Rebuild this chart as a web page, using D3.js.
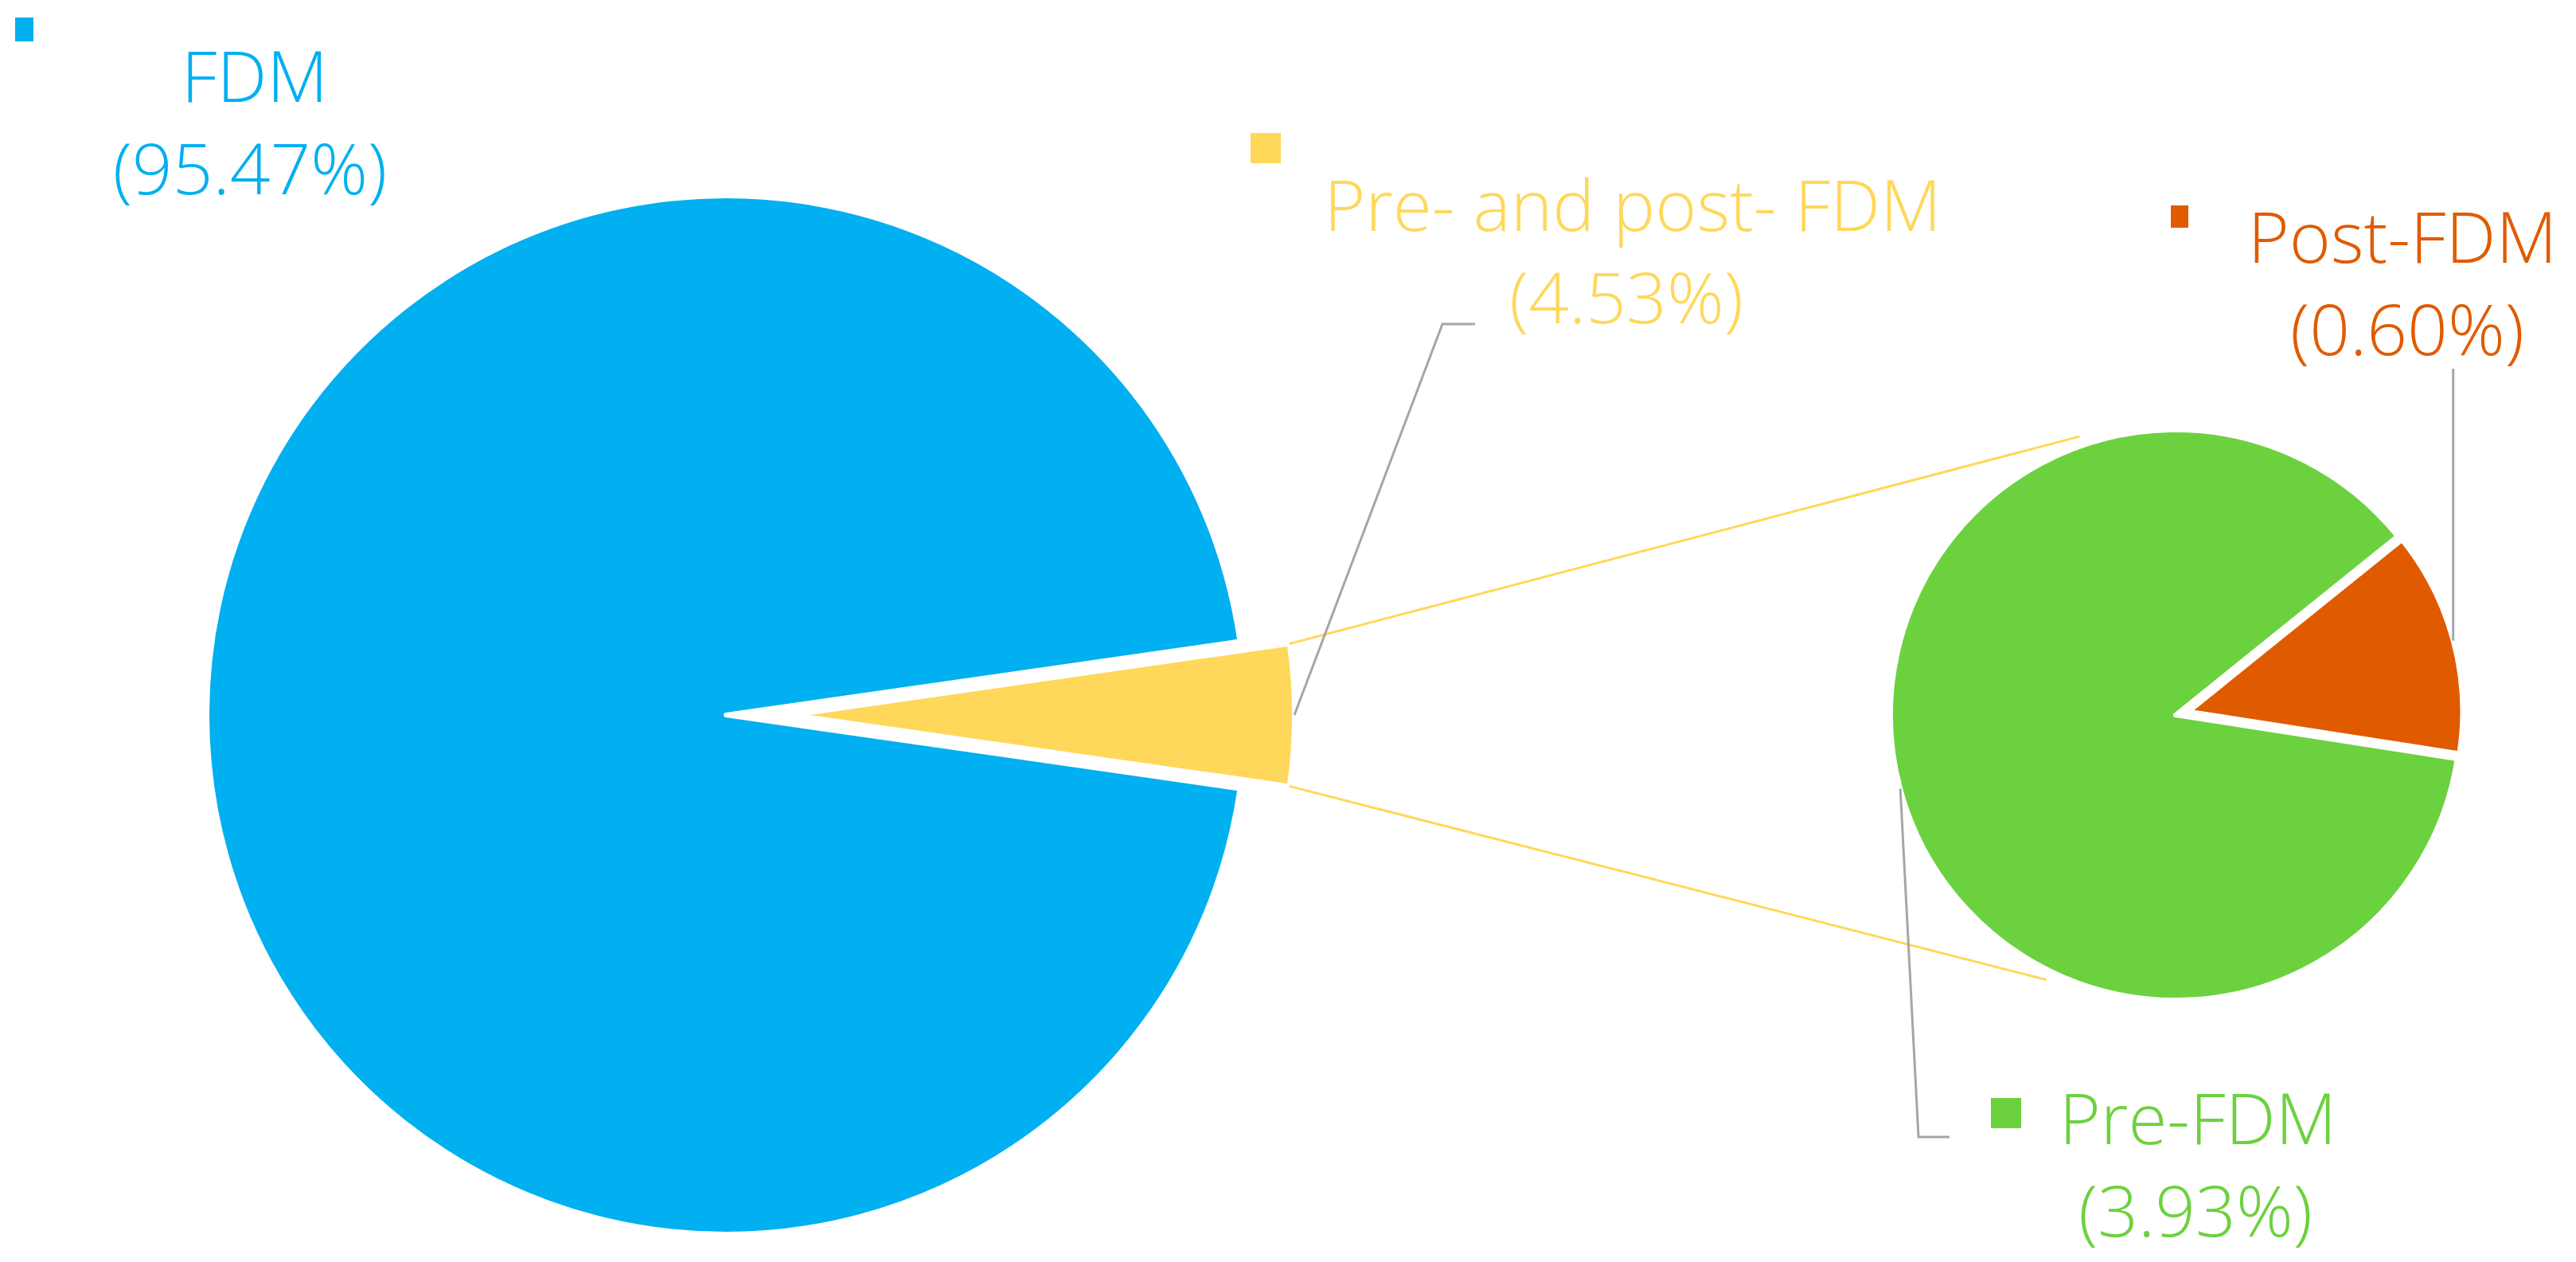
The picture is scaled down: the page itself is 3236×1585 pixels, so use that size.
<!DOCTYPE html>
<html>
<head>
<meta charset="utf-8">
<script src="https://cdnjs.cloudflare.com/ajax/libs/d3/7.8.5/d3.min.js"></script>
<style>
  html, body { margin: 0; padding: 0; background: #fff; }
  text { font-family: "Open Sans", "Noto Sans", sans-serif; font-weight: 300; }
</style>
</head>
<body>
<div id="container"></div>
<script>
// main pie: FDM vs the combined pre/post slice
var mainLabels = ['FDM', 'Pre- and post- FDM'];
var mainValues = [95.47, 4.53];
var mainColors = ['#00B0F0', '#FFD75A'];

// secondary pie: split of the combined slice
var subLabels = ['Pre-FDM', 'Post-FDM'];
var subValues = [3.93, 0.60];
var subColors = ['#6CD13F', '#E05B00'];

var width = 3236,
    height = 1585;

var rad = Math.PI / 180;

var svg = d3.select('div#container')
    .append('svg')
    .attr('width', width)
    .attr('height', height);

// ---- main pie ----
var mc = [912, 898], mr = 652;
var yellowShare = mainValues[1] / d3.sum(mainValues);
var half = Math.PI * yellowShare;   // half angle of the yellow slice
var mainPie = d3.pie().sort(null)
    .startAngle(Math.PI / 2 + half)
    .endAngle(Math.PI / 2 + half + 2 * Math.PI);
var mainArcs = mainPie(mainValues);

// exploded slice is pushed right and drawn a little smaller
var explode = [0, 84], radii = [mr, 630];

var gMain = svg.append('g').attr('transform', 'translate(' + mc + ')');
gMain.selectAll('path')
    .data(mainArcs)
    .enter().append('path')
    .attr('d', function(d, i) {
        return d3.arc().innerRadius(0).outerRadius(radii[i])(d);
    })
    .attr('transform', function(d, i) {
        var a = (d.startAngle + d.endAngle) / 2;
        return 'translate(' + [explode[i] * Math.sin(a), -explode[i] * Math.cos(a)] + ')';
    })
    .attr('fill', function(d, i) { return mainColors[i]; })
    .attr('stroke', '#fff')
    .attr('stroke-width', 6)
    .attr('stroke-linejoin', 'round');

// ---- secondary pie ----
var sc = [2733, 898], sr = 358;
var orangeShare = subValues[1] / d3.sum(subValues);
var orangeMid = 75 * rad;
var orangeEnd = orangeMid + Math.PI * orangeShare;
var subPie = d3.pie().sort(null)
    .startAngle(orangeEnd)
    .endAngle(orangeEnd + 2 * Math.PI);
var subArcs = subPie(subValues);
var subExplode = [0, 17], subRadii = [sr, 344];

var gSub = svg.append('g').attr('transform', 'translate(' + sc + ')');
gSub.selectAll('path')
    .data(subArcs)
    .enter().append('path')
    .attr('d', function(d, i) {
        return d3.arc().innerRadius(0).outerRadius(subRadii[i])(d);
    })
    .attr('transform', function(d, i) {
        var a = (d.startAngle + d.endAngle) / 2;
        return 'translate(' + [subExplode[i] * Math.sin(a), -subExplode[i] * Math.cos(a)] + ')';
    })
    .attr('fill', function(d, i) { return subColors[i]; })
    .attr('stroke', '#fff')
    .attr('stroke-width', 6)
    .attr('stroke-linejoin', 'round');

// helper: point on the rim of an (exploded) slice at angle a
function rim(center, arc, off, r, a) {
    var m = (arc.startAngle + arc.endAngle) / 2;
    return [center[0] + off * Math.sin(m) + r * Math.sin(a),
            center[1] - off * Math.cos(m) - r * Math.cos(a)];
}

// ---- connector lines between the two pies ----
var ya = mainArcs[1];
var still = {startAngle: 0, endAngle: 0};
var connectors = [
    [rim(mc, ya, explode[1], radii[1], ya.startAngle), rim(sc, still, 0, sr + 12, -19 * rad)],
    [rim(mc, ya, explode[1], radii[1], ya.endAngle), rim(sc, still, 0, sr + 12, 206 * rad)]
];
svg.selectAll('line.conn')
    .data(connectors)
    .enter().append('line')
    .attr('class', 'conn')
    .attr('x1', function(d) { return d[0][0]; })
    .attr('y1', function(d) { return d[0][1]; })
    .attr('x2', function(d) { return d[1][0]; })
    .attr('y2', function(d) { return d[1][1]; })
    .attr('stroke', mainColors[1])
    .attr('stroke-width', 3);

// ---- leader lines ----
function mid(d) { return (d.startAngle + d.endAngle) / 2; }
var leaders = [
    [rim(mc, ya, explode[1], radii[1], mid(ya)), [1812, 407], [1853, 407]],
    [rim(sc, subArcs[1], subExplode[1], subRadii[1], mid(subArcs[1])), [0, 463]],
    [rim(sc, subArcs[0], 0, sr, mid(subArcs[0])), [2410, 1428], [2449, 1428]]
];
// the orange leader runs straight up
leaders[1][1][0] = leaders[1][0][0];

svg.selectAll('path.leader')
    .data(leaders)
    .enter().append('path')
    .attr('class', 'leader')
    .attr('d', d3.line())
    .attr('fill', 'none')
    .attr('stroke', '#A6A6A6')
    .attr('stroke-width', 3);

// ---- data labels ----
var labels = [
    {name: mainLabels[0], value: mainValues[0], color: mainColors[0], x1: 320, x2: 314, y: 128, key: [19, 22, 23, 30]},
    {name: mainLabels[1], value: mainValues[1], color: mainColors[1], x1: 2051, x2: 2043, y: 290, key: [1571, 167, 38, 38]},
    {name: subLabels[1], value: subValues[1], color: subColors[1], x1: 3018, x2: 3024, y: 330, key: [2727, 258, 22, 28]},
    {name: subLabels[0], value: subValues[0], color: subColors[0], x1: 2761, x2: 2758, y: 1437, key: [2501, 1379, 38, 38]}
];
var lineGap = 116;

var lg = svg.selectAll('g.label')
    .data(labels)
    .enter().append('g')
    .attr('class', 'label');

lg.append('rect')
    .attr('x', function(d) { return d.key[0]; })
    .attr('y', function(d) { return d.key[1]; })
    .attr('width', function(d) { return d.key[2]; })
    .attr('height', function(d) { return d.key[3]; })
    .attr('fill', function(d) { return d.color; });

lg.append('text')
    .attr('x', function(d) { return d.x1; })
    .attr('y', function(d) { return d.y; })
    .attr('text-anchor', 'middle')
    .attr('font-size', 89)
    .attr('fill', function(d) { return d.color; })
    .text(function(d) { return d.name; });

lg.append('text')
    .attr('x', function(d) { return d.x2; })
    .attr('y', function(d) { return d.y + lineGap; })
    .attr('text-anchor', 'middle')
    .attr('font-size', 89)
    .attr('fill', function(d) { return d.color; })
    .text(function(d) { return '(' + d.value.toFixed(2) + '%)'; });
</script>
</body>
</html>
